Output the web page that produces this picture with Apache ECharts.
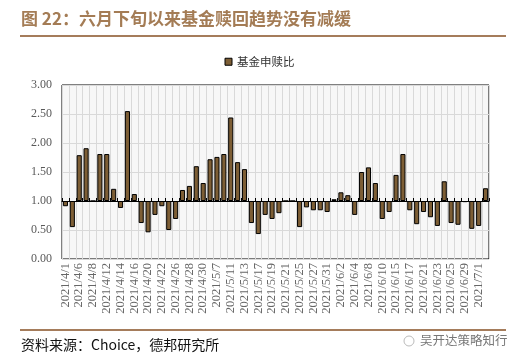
<!DOCTYPE html>
<html><head><meta charset="utf-8">
<script src="https://cdn.jsdelivr.net/npm/echarts@6/dist/echarts.min.js"></script>
<style>html,body{margin:0;padding:0;background:#fff}#c{width:519px;height:364px}</style>
</head><body><div id="c"></div>
<script>
const categories = ['2021/4/1','2021/4/2','2021/4/6','2021/4/7','2021/4/8','2021/4/9','2021/4/12','2021/4/13','2021/4/14','2021/4/15','2021/4/16','2021/4/19','2021/4/20','2021/4/21','2021/4/22','2021/4/23','2021/4/26','2021/4/27','2021/4/28','2021/4/29','2021/4/30','2021/5/6','2021/5/7','2021/5/10','2021/5/11','2021/5/12','2021/5/13','2021/5/14','2021/5/17','2021/5/18','2021/5/19','2021/5/20','2021/5/21','2021/5/24','2021/5/25','2021/5/26','2021/5/27','2021/5/28','2021/5/31','2021/6/1','2021/6/2','2021/6/3','2021/6/4','2021/6/7','2021/6/8','2021/6/9','2021/6/10','2021/6/11','2021/6/15','2021/6/16','2021/6/17','2021/6/18','2021/6/21','2021/6/22','2021/6/23','2021/6/24','2021/6/25','2021/6/28','2021/6/29','2021/6/30','2021/7/1','2021/7/2'];
const ratio = [0.91,0.55,1.79,1.91,1.00,1.81,1.81,1.21,0.88,2.55,1.12,0.62,0.46,0.76,0.91,0.50,0.69,1.19,1.26,1.60,1.31,1.72,1.76,1.81,2.44,1.67,1.55,0.62,0.43,0.76,0.69,0.79,1.00,1.00,0.55,0.89,0.84,0.84,0.81,1.03,1.15,1.10,0.76,1.50,1.58,1.31,0.69,0.81,1.45,1.81,0.84,0.60,0.81,0.72,0.57,1.34,0.62,0.59,0.98,0.52,0.57,1.22];
const yTicks = [0, 0.5, 1, 1.5, 2, 2.5, 3];
const baseline = 1;

const baseData = ratio.map(v => Math.min(v, baseline));
const deltaData = ratio.map(v => Math.abs(v - baseline));

const chart = echarts.init(document.getElementById('c'));
const serif = '"Liberation Serif","DejaVu Serif",serif';
const cjk = '"Noto Sans CJK SC","Noto Sans",sans-serif';
const gridTop = 85, gridH = 174;
chart.setOption({
  animation: false,
  backgroundColor: '#fff',
  grid: { left: 62, right: 30, top: gridTop, height: gridH, show: true, borderColor: '#000', borderWidth: 1, backgroundColor: '#f7f7f7' },
  legend: {
    data: ['基金申赎比'], top: 51, left: 'center', icon: 'rect', itemWidth: 7, itemHeight: 7, itemGap: 4,
    itemStyle: { borderColor: '#000', borderWidth: 1 },
    textStyle: { fontFamily: cjk, fontSize: 11.5, color: '#333' }
  },
  xAxis: [{
    type: 'category', data: categories, position: 'bottom',
    axisLine: { show: false }, axisTick: { show: false },
    axisLabel: { interval: 1, rotate: 90, fontFamily: serif, fontSize: 12.5, color: '#666', margin: 4 },
    splitLine: { show: true, interval: 0, lineStyle: { color: '#d9d9d9', width: 1 } }
  }, {
    type: 'category', data: categories, position: 'bottom', offset: -Math.round(gridH * (baseline - yTicks[0]) / (yTicks[yTicks.length-1] - yTicks[0])),
    axisLine: { show: true, onZero: false, lineStyle: { color: '#000', width: 1 } },
    axisTick: { show: true, inside: true, length: 3, interval: 0, lineStyle: { color: '#000' } },
    axisLabel: { show: false }, splitLine: { show: false }
  }],
  yAxis: {
    type: 'value', min: 0, max: 3, interval: 0.5,
    axisLine: { show: false }, axisTick: { show: false },
    axisLabel: { formatter: v => v.toFixed(2), fontFamily: serif, fontSize: 12, color: '#595959', margin: 10 },
    splitLine: { show: true, lineStyle: { color: '#d9d9d9', width: 1 } }
  },
  series: [{
    name: 'base', type: 'bar', stack: 's', data: baseData, barWidth: '74%',
    itemStyle: { color: 'rgba(0,0,0,0)' }, silent: true
  }, {
    name: '基金申赎比', type: 'bar', stack: 's', data: deltaData, barWidth: '74%',
    itemStyle: { color: '#7d5e35', borderColor: '#000', borderWidth: 1 }
  }],
  graphic: [
    { type: 'text', left: 21, top: 10, style: { text: '图 22：六月下旬以来基金赎回趋势没有减缓', font: 'bold 17px ' + cjk, fill: '#a47c55' } },
    { type: 'rect', shape: { x: 20, y: 35, width: 486, height: 2 }, style: { fill: '#a57c5b' } },
    { type: 'rect', shape: { x: 20, y: 329, width: 486, height: 2 }, style: { fill: '#a57c5b' } },
    { type: 'text', left: 21, top: 338, style: { text: '资料来源：Choice，德邦研究所', font: '14px ' + cjk, fill: '#111' } },
    { type: 'circle', shape: { cx: 409, cy: 341, r: 5 }, style: { fill: 'none', stroke: '#bbb', lineWidth: 1 } },
    { type: 'text', left: 420, top: 334, style: { text: '吴开达策略知行', font: '12.5px ' + cjk, fill: '#777' } }
  ]
});
</script></body></html>
